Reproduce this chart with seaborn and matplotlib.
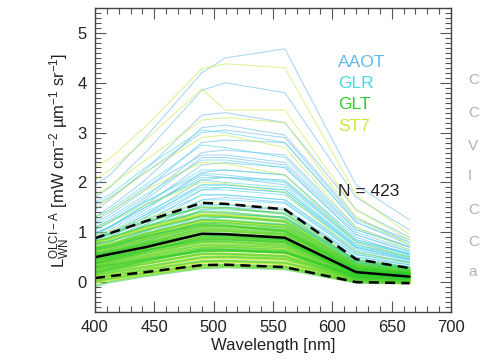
import numpy as np
import pandas as pd
import matplotlib
matplotlib.use("Agg")
import matplotlib.pyplot as plt
from matplotlib.ticker import MultipleLocator
import seaborn as sns

# ---------------- data ----------------
wavelengths = [400, 412.5, 442.5, 490, 510, 560, 620, 665]

aaot = [
    [1.95, 2.15, 2.90, 4.20, 4.50, 4.68, 1.95, 1.25],
    [1.70, 1.90, 2.60, 3.85, 4.00, 3.80, 1.70, 1.05],
    [1.45, 1.65, 2.25, 3.35, 3.40, 3.20, 1.45, 0.90],
    [1.30, 1.50, 2.05, 3.10, 3.15, 2.95, 1.30, 0.80],
    [1.20, 1.35, 1.85, 2.80, 2.85, 2.80, 1.20, 0.75],
    [1.10, 1.25, 1.70, 2.60, 2.65, 2.55, 1.10, 0.70],
    [1.05, 1.20, 1.65, 2.50, 2.50, 2.35, 1.00, 0.65],
    [0.95, 1.10, 1.55, 2.35, 2.40, 2.30, 0.95, 0.60],
    [0.90, 1.05, 1.45, 2.20, 2.25, 2.15, 0.90, 0.55],
    [1.00, 1.10, 1.50, 2.15, 2.10, 1.95, 0.80, 0.50],
    [0.85, 0.95, 1.35, 2.05, 2.10, 2.05, 0.85, 0.55],
    [0.80, 0.90, 1.30, 1.95, 1.95, 1.85, 0.75, 0.50],
    [0.75, 0.85, 1.20, 1.85, 1.90, 1.80, 0.70, 0.45],
    [0.70, 0.80, 1.15, 1.75, 1.75, 1.65, 0.65, 0.45],
    [0.65, 0.75, 1.05, 1.65, 1.70, 1.60, 0.60, 0.40],
    [0.60, 0.70, 1.00, 1.55, 1.55, 1.45, 0.55, 0.40],
    [0.55, 0.65, 0.95, 1.45, 1.50, 1.45, 0.50, 0.35],
    [0.50, 0.60, 0.85, 1.35, 1.35, 1.30, 0.45, 0.30],
    [0.45, 0.55, 0.80, 1.25, 1.30, 1.25, 0.45, 0.30],
    [0.40, 0.50, 0.75, 1.15, 1.20, 1.15, 0.40, 0.28],
    [1.55, 1.70, 2.20, 3.00, 3.05, 2.90, 1.25, 0.85],
    [1.25, 1.40, 1.90, 2.55, 2.55, 2.40, 1.05, 0.72],
]

glr = [
    [1.30, 1.45, 1.95, 2.75, 2.70, 2.50, 1.05, 0.70],
    [1.15, 1.30, 1.75, 2.45, 2.45, 2.30, 0.95, 0.62],
    [1.05, 1.20, 1.60, 2.25, 2.25, 2.15, 0.85, 0.58],
    [0.95, 1.10, 1.50, 2.10, 2.10, 2.00, 0.80, 0.55],
    [0.90, 1.00, 1.40, 1.95, 1.95, 1.85, 0.72, 0.50],
    [0.85, 0.95, 1.30, 1.85, 1.85, 1.75, 0.68, 0.48],
    [0.80, 0.90, 1.25, 1.75, 1.75, 1.65, 0.62, 0.45],
    [0.75, 0.85, 1.15, 1.65, 1.65, 1.58, 0.58, 0.42],
    [0.70, 0.80, 1.10, 1.55, 1.55, 1.48, 0.55, 0.40],
    [0.65, 0.75, 1.02, 1.45, 1.45, 1.40, 0.50, 0.38],
    [0.60, 0.70, 0.95, 1.35, 1.37, 1.30, 0.46, 0.35],
    [0.55, 0.65, 0.90, 1.28, 1.30, 1.25, 0.42, 0.32],
    [0.50, 0.58, 0.82, 1.20, 1.22, 1.15, 0.38, 0.30],
    [0.45, 0.52, 0.75, 1.10, 1.12, 1.08, 0.35, 0.28],
    [1.60, 1.75, 2.30, 3.05, 3.00, 2.80, 1.20, 0.80],
    [0.98, 1.12, 1.55, 2.05, 2.00, 1.90, 0.75, 0.52],
    [1.10, 1.22, 1.62, 2.18, 2.15, 2.02, 0.82, 0.56],
    [0.88, 0.98, 1.35, 1.90, 1.90, 1.80, 0.70, 0.47],
]

glt = [
    [-0.08, 0.00, 0.12, 0.28, 0.30, 0.26, -0.01, -0.03],
    [0.02, 0.07, 0.18, 0.34, 0.35, 0.31, 0.02, 0.00],
    [0.08, 0.13, 0.25, 0.42, 0.43, 0.39, 0.05, 0.02],
    [0.14, 0.19, 0.31, 0.50, 0.51, 0.47, 0.07, 0.04],
    [0.18, 0.23, 0.37, 0.57, 0.57, 0.52, 0.09, 0.06],
    [0.23, 0.28, 0.43, 0.63, 0.64, 0.59, 0.11, 0.07],
    [0.27, 0.32, 0.48, 0.69, 0.70, 0.64, 0.13, 0.08],
    [0.31, 0.37, 0.53, 0.75, 0.75, 0.70, 0.15, 0.10],
    [0.35, 0.41, 0.58, 0.81, 0.81, 0.75, 0.17, 0.11],
    [0.39, 0.45, 0.63, 0.86, 0.86, 0.80, 0.19, 0.12],
    [0.43, 0.49, 0.68, 0.92, 0.92, 0.85, 0.20, 0.13],
    [0.47, 0.53, 0.72, 0.97, 0.97, 0.90, 0.22, 0.15],
    [0.51, 0.57, 0.77, 1.02, 1.02, 0.95, 0.24, 0.16],
    [0.55, 0.61, 0.81, 1.07, 1.07, 0.99, 0.26, 0.17],
    [0.59, 0.65, 0.86, 1.12, 1.12, 1.04, 0.28, 0.19],
    [0.64, 0.70, 0.91, 1.18, 1.18, 1.09, 0.30, 0.20],
    [0.69, 0.75, 0.97, 1.25, 1.24, 1.15, 0.32, 0.22],
    [0.75, 0.82, 1.04, 1.32, 1.31, 1.21, 0.35, 0.24],
    [0.82, 0.89, 1.12, 1.41, 1.40, 1.29, 0.38, 0.26],
    [0.90, 0.97, 1.21, 1.50, 1.49, 1.37, 0.42, 0.29],
    [0.30, 0.34, 0.46, 0.62, 0.63, 0.60, 0.10, 0.06],
    [0.45, 0.50, 0.64, 0.84, 0.85, 0.80, 0.16, 0.10],
    [0.20, 0.26, 0.42, 0.66, 0.66, 0.60, 0.13, 0.09],
    [0.55, 0.60, 0.76, 0.96, 0.95, 0.86, 0.20, 0.12],
    [0.38, 0.44, 0.62, 0.90, 0.90, 0.84, 0.23, 0.16],
    [0.66, 0.72, 0.92, 1.16, 1.14, 1.02, 0.25, 0.16],
]

st7_low = [
    [0.00, 0.05, 0.16, 0.32, 0.33, 0.30, 0.01, -0.01],
    [0.06, 0.11, 0.22, 0.40, 0.41, 0.37, 0.04, 0.01],
    [0.12, 0.17, 0.29, 0.48, 0.49, 0.45, 0.06, 0.03],
    [0.19, 0.24, 0.37, 0.56, 0.56, 0.52, 0.08, 0.05],
    [0.25, 0.30, 0.44, 0.64, 0.64, 0.59, 0.11, 0.07],
    [0.31, 0.36, 0.51, 0.72, 0.72, 0.66, 0.13, 0.08],
    [0.37, 0.42, 0.58, 0.80, 0.80, 0.73, 0.15, 0.10],
    [0.43, 0.48, 0.65, 0.88, 0.88, 0.80, 0.18, 0.11],
    [0.49, 0.55, 0.72, 0.96, 0.96, 0.88, 0.20, 0.13],
    [0.55, 0.61, 0.79, 1.04, 1.04, 0.95, 0.23, 0.15],
    [0.62, 0.68, 0.87, 1.12, 1.12, 1.03, 0.26, 0.17],
    [0.70, 0.76, 0.96, 1.22, 1.21, 1.11, 0.29, 0.19],
    [0.80, 0.87, 1.08, 1.35, 1.34, 1.22, 0.33, 0.21],
]

st7_high = [
    [0.95, 1.03, 1.28, 1.60, 1.58, 1.44, 0.45, 0.30],
    [1.10, 1.20, 1.55, 2.00, 1.98, 1.80, 0.60, 0.38],
    [1.30, 1.42, 1.85, 2.40, 2.38, 2.15, 0.80, 0.50],
    [1.50, 1.68, 2.20, 2.90, 2.95, 2.70, 1.10, 0.65],
    [2.05, 2.25, 2.85, 3.88, 3.45, 3.45, 1.45, 0.85],
    [2.30, 2.48, 3.12, 4.28, 4.38, 4.30, 1.75, 0.95],
    [1.75, 1.92, 2.45, 3.25, 3.30, 3.20, 1.30, 0.75],
]

mean_vals = [0.50, 0.56, 0.70, 0.97, 0.96, 0.89, 0.20, 0.11]
upper_vals = [0.88, 0.98, 1.22, 1.59, 1.57, 1.46, 0.46, 0.28]
lower_vals = [0.08, 0.12, 0.20, 0.34, 0.35, 0.30, 0.00, -0.02]

site_names = ["AAOT", "GLR", "GLT", "ST7"]
site_colors = ["#62b8ec", "#46d8e4", "#2ecc2e", "#c4ec3c"]
n_total_label = "N = 423"

x_ticks = [400, 450, 500, 550, 600, 650, 700]
y_ticks = [0, 1, 2, 3, 4, 5]

side_letters = ["C", "C", "V", "I", "C", "C", "a"]

# ---------------- build long table ----------------
rows = []
sid = 0
groups = [("AAOT", "thin", aaot), ("GLR", "thin", glr),
          ("ST7", "thin", st7_high), ("ST7", "thick", st7_low),
          ("GLT", "thick", glt)]
for name, kind, spectra in groups:
    for spec in spectra:
        for w, v in zip(wavelengths, spec):
            rows.append({"site": name, "kind": kind, "id": sid, "wl": w, "Lwn": v})
        sid += 1
df = pd.DataFrame(rows)
stats = pd.DataFrame({"wl": wavelengths, "mean": mean_vals,
                      "upper": upper_vals, "lower": lower_vals})

# ---------------- plot ----------------
sns.set_theme(style="white")
plt.rcParams["font.family"] = ["Liberation Sans", "DejaVu Sans"]
plt.rcParams["mathtext.default"] = "regular"

fig = plt.figure(figsize=(4.81, 3.60), dpi=100)
ax = fig.add_axes([95 / 481, 48 / 360, 356 / 481, 304 / 360])

color_map = dict(zip(site_names, site_colors))
for name, kind, _ in groups:
    sub = df[(df.site == name) & (df.kind == kind)]
    if kind == "thin":
        lw, al = 0.7, 0.6
    elif name == "GLT":
        lw, al = 1.6, 0.55
    else:
        lw, al = 2.2, 0.85
    sns.lineplot(data=sub, x="wl", y="Lwn", units="id", estimator=None,
                 color=color_map[name], lw=lw, alpha=al, ax=ax,
                 legend=False, sort=False)

sns.lineplot(data=stats, x="wl", y="mean", color="black", lw=1.8, ax=ax)
sns.lineplot(data=stats, x="wl", y="upper", color="black", lw=1.8,
             ax=ax, linestyle=(0, (4, 2.5)))
sns.lineplot(data=stats, x="wl", y="lower", color="black", lw=1.8,
             ax=ax, linestyle=(0, (4, 2.5)))

ax.set_xlim(400, 700)
ax.set_ylim(-0.6, 5.5)
ax.set_xticks(x_ticks)
ax.set_yticks(y_ticks)
ax.xaxis.set_minor_locator(MultipleLocator(10))
ax.yaxis.set_minor_locator(MultipleLocator(0.1))
ax.tick_params(which="both", direction="in", top=True, right=True,
               bottom=True, left=True,
               colors="#555555", labelcolor="#222222", width=0.8)
ax.tick_params(which="major", length=8, labelsize=12, pad=6)
ax.tick_params(which="minor", length=4)
for s in ax.spines.values():
    s.set_color("#444444")
    s.set_linewidth(1.0)

ax.set_xlabel("Wavelength [nm]", fontsize=12, color="#222222", labelpad=2)
ax.set_ylabel(r"$L_{WN}^{OLCI-A}$ [mW cm$^{-2}$ µm$^{-1}$ sr$^{-1}$]",
              fontsize=12, color="#222222", labelpad=4)

ypos = [0.822, 0.753, 0.681, 0.609]
for name, col, yp in zip(site_names, site_colors, ypos):
    ax.text(0.683, yp, name, transform=ax.transAxes, color=col,
            fontsize=12.5, ha="left", va="center")
ax.text(0.683, 0.398, n_total_label, transform=ax.transAxes,
        color="#222222", fontsize=12.5, ha="left", va="center")

letter_y = [80, 113, 146, 176, 210, 242, 272]
for ch, yy in zip(side_letters, letter_y):
    fig.text(468 / 481, 1 - yy / 360, ch, color="#b0b0b0", fontsize=11,
             ha="left", va="center")

fig.savefig("out.png", dpi=100, facecolor="white")
